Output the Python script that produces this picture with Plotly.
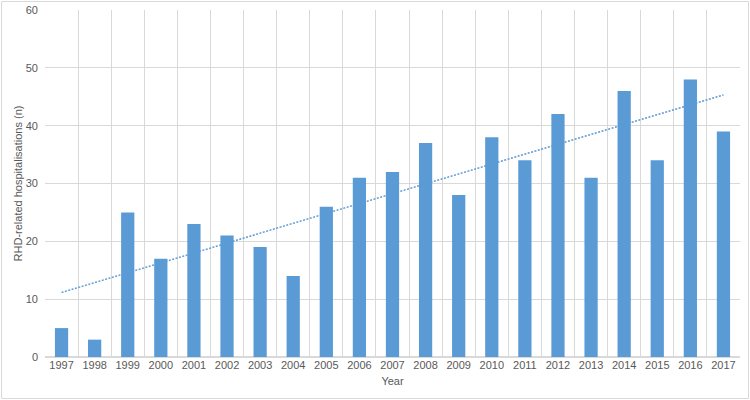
import numpy as np
import plotly.graph_objects as go

years = [str(y) for y in range(1997, 2018)]
hospitalisations = [5, 3, 25, 17, 23, 21, 19, 14, 26, 31, 32, 37, 28, 38, 34, 42, 31, 46, 34, 48, 39]
y_ticks = [0, 10, 20, 30, 40, 50, 60]

BLUE = '#5B9BD5'
GRID = '#D9D9D9'
TEXT = '#595959'

W, H = 750, 400
M = dict(l=45, r=10, t=10, b=43)

x = np.arange(len(years))
# linear trendline (least squares, like Excel)
slope, intercept = np.polyfit(x, hospitalisations, 1)
trend = slope * x + intercept

fig = go.Figure()
fig.add_trace(go.Bar(
    x=x,
    y=hospitalisations,
    width=0.4,
    marker={'color': BLUE, 'line': {'width': 0}},
    showlegend=False,
))
fig.add_trace(go.Scatter(
    x=x,
    y=trend,
    mode='lines',
    line={'color': BLUE, 'width': 1.5, 'dash': '2px,1.5px'},
    showlegend=False,
))

# thin border around the whole chart area
pw = W - M['l'] - M['r']
ph = H - M['t'] - M['b']
fig.add_shape(
    type='rect', xref='paper', yref='paper',
    x0=(1.5 - M['l']) / pw, x1=(W - 1.5 - M['l']) / pw,
    y0=-(H - 1.5 - M['t'] - ph) / ph, y1=(H - 1.5 - M['b']) / ph,
    line={'color': GRID, 'width': 1},
)

fig.update_layout(
    width=W,
    height=H,
    margin=M,
    plot_bgcolor='white',
    paper_bgcolor='white',
    font={'family': 'Liberation Sans, Arial', 'size': 11, 'color': TEXT},
    xaxis={
        'range': [-0.5, len(years) - 0.5],
        'tickvals': list(x),
        'ticktext': years,
        'showgrid': False,
        'zeroline': False,
        'ticks': '',
        'showline': False,
        'automargin': False,
        'minor': {
            'tickvals': [i - 0.5 for i in range(len(years) + 1)],
            'showgrid': True,
            'gridcolor': GRID,
            'gridwidth': 1,
        },
        'title': {'text': 'Year', 'standoff': 7, 'font': {'size': 11}},
    },
    yaxis={
        'range': [0, 60],
        'tickvals': y_ticks,
        'showgrid': True,
        'gridcolor': GRID,
        'gridwidth': 1,
        'zeroline': True,
        'zerolinecolor': GRID,
        'ticks': '',
        'automargin': False,
        'ticklabelstandoff': 6,
        'title': {'text': 'RHD-related hospitalisations (n)', 'standoff': 0, 'font': {'size': 11}},
    },
)

# drop the page's default body margin so the chart sits at the window corner
fig.write_html(
    'out.html',
    config={'displayModeBar': False},
    post_script="document.body.style.margin='0';",
)
